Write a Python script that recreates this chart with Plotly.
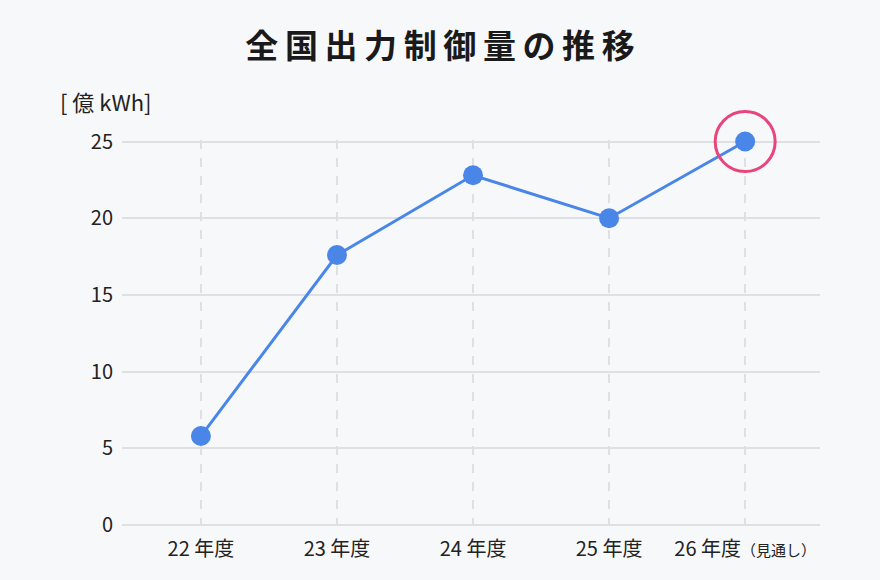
import plotly.graph_objects as go

years = ["22 年度", "23 年度", "24 年度", "25 年度", "26 年度<span style='font-size:15px'>（見通し）</span>"]
values = [5.8, 17.6, 22.8, 20.0, 25.0]
highlight_x = [years[-1]]
highlight_y = [values[-1]]

title = "\u2009".join("全国出力制御量の推移")

fig = go.Figure()

fig.add_trace(go.Scatter(
    x=years, y=values, mode="lines+markers",
    line=dict(color="#4a86e8", width=3),
    marker=dict(color="#4a86e8", size=20),
    cliponaxis=False, showlegend=False,
))

# circle round the forecast point
fig.add_trace(go.Scatter(
    x=highlight_x, y=highlight_y, mode="markers",
    marker=dict(symbol="circle-open", size=60, color="#e8457a", line=dict(width=3)),
    cliponaxis=False, showlegend=False,
))

fig.update_layout(
    width=880, height=580,
    paper_bgcolor="#f7f8fa", plot_bgcolor="#f7f8fa",
    font=dict(family="Noto Sans CJK JP", color="#222222", size=20),
    title=dict(text="<b>" + title + "</b>", x=0.5, xanchor="center", y=0.92, yanchor="middle",
               font=dict(size=33, color="#1a1a1a")),
    margin=dict(l=122, r=60, t=140, b=55),
    annotations=[dict(text="[ 億 kWh]", xref="paper", yref="paper", x=-0.092, y=1.1,
                      xanchor="left", yanchor="middle", showarrow=False,
                      font=dict(size=22, color="#222222"))],
)

fig.update_xaxes(
    type="category", range=[-0.58, 4.55],
    showgrid=True, gridcolor="#dfe0e4", griddash="dash", gridwidth=1.5,
    ticks="", ticklabelstandoff=10, zeroline=False, showline=False,
)
fig.update_yaxes(
    range=[0, 25.1], dtick=5,
    showgrid=True, gridcolor="#dfe0e4", gridwidth=1.5,
    zeroline=True, zerolinecolor="#dfe0e4", zerolinewidth=1.5,
    ticks="", ticklabelstandoff=8,
)

fig.write_html("out.html", config={"displayModeBar": False},
               post_script="document.body.style.margin='0';")
